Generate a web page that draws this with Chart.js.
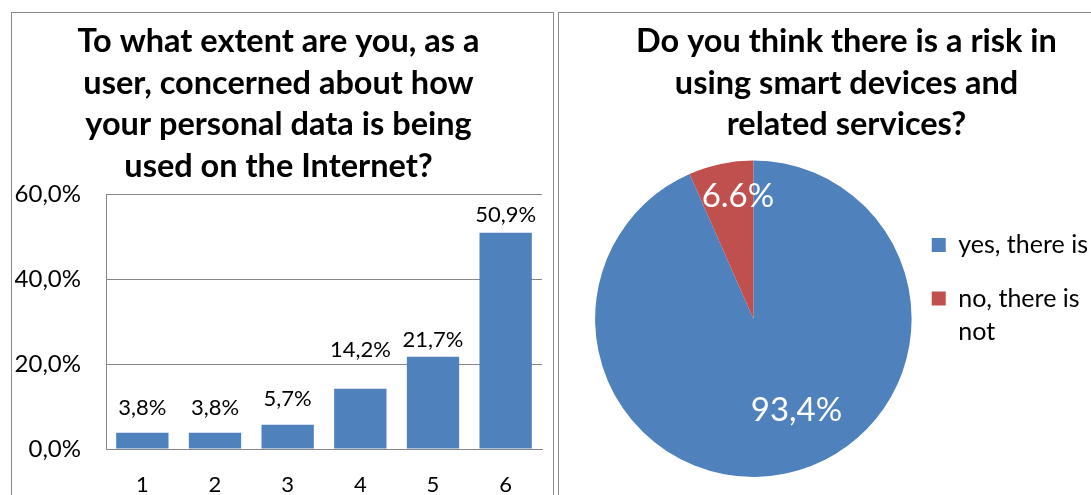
<!DOCTYPE html>
<html>
<head>
<meta charset="utf-8">
<script src="https://cdn.jsdelivr.net/npm/chart.js@4.4.1/dist/chart.umd.min.js"></script>
<style>
    html, body { margin: 0; padding: 0; background: #fff; overflow: hidden; }
    body { position: relative; width: 1091px; height: 495px; }
    .panel { position: absolute; top: 12px; height: 520px; box-sizing: border-box; border: 1px solid #8a8a8a; border-bottom: none; }
    #leftPanel { left: 11px; width: 543px; }
    #rightPanel { left: 558px; width: 600px; border-right: none; }
    canvas { position: absolute; }
    #concernChart { left: 12px; top: 13px; }
    #riskChart { left: 559px; top: 13px; }
</style>
</head>
<body>
<div class="panel" id="leftPanel"></div>
<div class="panel" id="rightPanel"></div>
<canvas id="concernChart" width="541" height="482"></canvas>
<canvas id="riskChart" width="539" height="482"></canvas>

<script>
// Concern about personal data use on the Internet, answers on a 1-6 scale
const concernLevels = ['1', '2', '3', '4', '5', '6'];
const concernShares = [3.8, 3.8, 5.7, 14.2, 21.7, 50.9];
const concernTicks = [0, 20, 40, 60];

// Risk in using smart devices and related services
const riskAnswers = ['yes, there is', 'no, there is not'];
const riskShares = [93.4, 6.6];
const riskDecimalMarks = [',', '.'];

const BLUE = '#4F81BD';
const RED = '#C0504D';
const GRID = '#868686';

Chart.defaults.font.family = 'Lato';
Chart.defaults.color = '#000';

function percentText(value, mark) {
    return value.toFixed(1).replace('.', mark) + '%';
}

// value labels above each bar
const barValueLabels = {
    id: 'barValueLabels',
    afterDatasetsDraw(chart, args, opts) {
        const ctx = chart.ctx;
        const values = chart.data.datasets[0].data;
        ctx.save();
        ctx.font = '22px Lato';
        ctx.fillStyle = '#000';
        ctx.textAlign = 'center';
        ctx.textBaseline = 'middle';
        chart.getDatasetMeta(0).data.forEach((bar, i) => {
            ctx.fillText(percentText(values[i], ','), bar.x, bar.y - opts.gaps[i]);
        });
        ctx.restore();
    }
};

// white percentages inside the slices
const sliceLabels = {
    id: 'sliceLabels',
    afterDatasetsDraw(chart, args, opts) {
        const ctx = chart.ctx;
        const values = chart.data.datasets[0].data;
        ctx.save();
        ctx.font = '33px Lato';
        ctx.fillStyle = '#fff';
        ctx.textAlign = 'center';
        ctx.textBaseline = 'middle';
        chart.getDatasetMeta(0).data.forEach((arc, i) => {
            const spot = opts.spots[i];
            const angle = (arc.startAngle + arc.endAngle) / 2 + spot.turn * Math.PI / 180;
            const r = arc.outerRadius * spot.dist;
            ctx.fillText(percentText(values[i], riskDecimalMarks[i]),
                arc.x + Math.cos(angle) * r, arc.y + Math.sin(angle) * r);
        });
        ctx.restore();
    }
};

function wrapText(ctx, text, maxWidth) {
    ctx.save();
    ctx.font = '25px Lato';
    const lines = [];
    let line = '';
    text.split(' ').forEach(word => {
        const next = line ? line + ' ' + word : word;
        if (line && ctx.measureText(next).width > maxWidth) {
            lines.push(line);
            line = word;
        } else {
            line = next;
        }
    });
    lines.push(line);
    ctx.restore();
    return lines;
}

function drawCharts() {
    new Chart(document.getElementById('concernChart'), {
        type: 'bar',
        data: {
            labels: concernLevels,
            datasets: [{
                data: concernShares,
                backgroundColor: BLUE,
                barPercentage: 0.72,
                categoryPercentage: 1
            }]
        },
        options: {
            responsive: false,
            animation: false,
            layout: { padding: { left: 3, right: 11, top: 0, bottom: 0 } },
            plugins: {
                legend: { display: false },
                tooltip: { enabled: false },
                title: {
                    display: true,
                    text: ['To what extent are you, as a', 'user, concerned about how',
                           'your personal data is being', 'used on the Internet?'],
                    font: { size: 32.5, weight: 'bold', lineHeight: 1.277 },
                    padding: { top: 8, bottom: 7 }
                },
                barValueLabels: { gaps: [25, 25, 26, 39, 17, 18] }
            },
            scales: {
                x: {
                    grid: { display: false },
                    border: { color: GRID },
                    ticks: { font: { size: 22 }, padding: 15 },
                    afterFit: scale => { scale.height = 46; }
                },
                y: {
                    min: 0,
                    max: 60,
                    afterBuildTicks: scale => { scale.ticks = concernTicks.map(value => ({ value })); },
                    grid: { color: GRID, drawTicks: false },
                    border: { color: GRID },
                    ticks: {
                        font: { size: 24 },
                        padding: 25,
                        callback: value => percentText(value, ',')
                    },
                    afterFit: scale => { scale.width = 91; }
                }
            }
        },
        plugins: [barValueLabels]
    });

    const pieLegend = (Chart.overrides.pie || Chart.overrides.doughnut).plugins.legend.labels.generateLabels;

    new Chart(document.getElementById('riskChart'), {
        type: 'pie',
        data: {
            labels: riskAnswers,
            datasets: [{
                data: riskShares,
                backgroundColor: [BLUE, RED],
                borderWidth: 0
            }]
        },
        options: {
            responsive: false,
            animation: false,
            layout: { padding: { left: 36, right: 0, top: 0, bottom: 18 } },
            plugins: {
                tooltip: { enabled: false },
                title: {
                    display: true,
                    text: ['Do you think there is a risk in', 'using smart devices and', 'related services?'],
                    font: { size: 32.5, weight: 'bold', lineHeight: 1.277 },
                    padding: { top: 8, bottom: 15 }
                },
                legend: {
                    position: 'right',
                    align: 'start',
                    fullSize: false,
                    title: { display: true, text: '', font: { size: 10, lineHeight: 1 }, padding: { top: 42, bottom: 0 } },
                    labels: {
                        boxWidth: 14,
                        boxHeight: 14,
                        padding: 20,
                        font: { size: 25, lineHeight: 1.34 },
                        generateLabels: chart => pieLegend(chart).map(item => ({
                            ...item,
                            text: wrapText(chart.ctx, item.text, 150),
                            lineWidth: 0
                        }))
                    }
                },
                sliceLabels: { spots: [{ turn: -13.3, dist: 0.64 }, { turn: 4.7, dist: 0.78 }] }
            }
        },
        plugins: [sliceLabels]
    });
}

Promise.all(['bold 32.5px Lato', '22px Lato', '24px Lato', '25px Lato', '33px Lato'].map(f => document.fonts.load(f)))
    .then(drawCharts, drawCharts);
</script>
</body>
</html>
